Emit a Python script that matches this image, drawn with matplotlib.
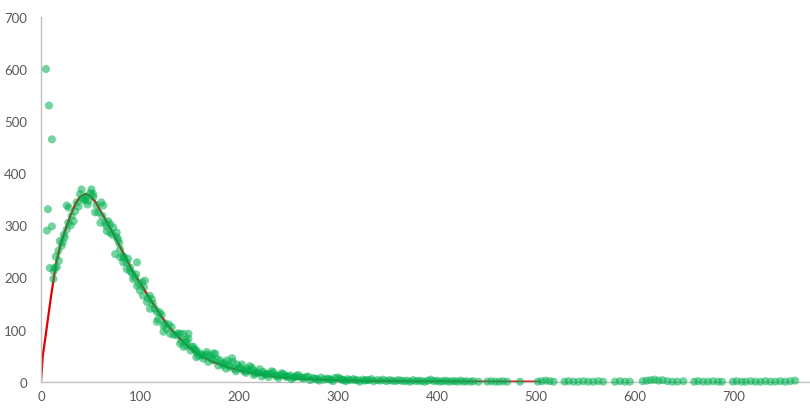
import numpy as np
import matplotlib.pyplot as plt

# scatter data, split by region of the x axis
rise_x = [5, 8, 11, 7, 6, 11, 9, 14, 16, 12.5, 13, 17.5, 15, 18, 21, 19, 22, 24, 23, 26,
          27.6, 26, 28, 31, 30, 33, 34.4, 36, 38, 39.4, 41, 42, 43, 44.5, 46, 48, 47, 51, 52.6, 54.6,
          50, 57.9, 56, 53]
rise_y = [600, 530, 465, 331, 290, 298, 218, 219, 220, 197, 212, 251, 240, 232, 261, 270, 268, 277, 282, 292,
          305, 338, 334, 318, 300, 308, 327, 344, 336, 360, 369, 352, 348, 350, 356, 347, 340, 369, 360, 325,
          362, 325, 339, 355]

fall_x = [60, 61, 63, 65, 66, 66.5, 70, 70, 73, 76.5, 76.5, 78, 75, 80, 80, 83, 83, 86.6, 86.6, 90,
          90, 93, 95, 97, 97, 100, 102, 103, 105, 107, 110, 110, 113, 117, 117, 118.5, 122, 123.7, 123.7, 127,
          130.5, 132, 137, 140.5, 140.5, 144, 144, 147, 147, 149, 149, 152, 154, 157, 157, 157, 161, 164, 164, 167.5,
          167.5, 171, 174, 174, 176, 177.6, 181]
fall_y = [305, 344, 338, 305, 299, 289, 302, 286, 296, 286, 277, 273, 245, 239, 254, 229, 241, 216, 229, 212,
          219, 197, 200, 184, 229, 175, 191, 165, 194, 153, 165, 140, 149, 134, 115, 120, 128, 108, 96, 101,
          92, 105, 89, 92, 73, 67, 92, 76, 69, 92, 82, 67, 67, 60, 57, 47, 54, 44, 50, 57,
          52, 50, 54, 41, 54, 44, 41]

extra_x = [62, 68, 72, 79, 84, 88, 92, 96, 99, 104, 108, 112, 115, 120, 125, 129, 134, 138, 142, 146,
           151, 155, 159, 163, 169, 172, 179, 183, 187, 190, 197, 200, 207, 210, 215, 219, 223, 227, 230, 237,
           240, 247, 253, 257, 264, 272, 277, 281, 291, 295, 304, 308, 317, 322, 327, 331, 336]
extra_y = [318, 308, 282, 266, 238, 236, 208, 206, 188, 181, 160, 158, 140, 133, 112, 110, 90, 93, 78, 80,
           60, 62, 50, 51, 38, 44, 31, 35, 25, 31, 20, 26, 17, 21, 13, 17, 10, 15, 9, 12,
           7, 11, 5, 9, 7, 3, 6, 2, 5, 1, 4, 1, 3, 0, 2, 3, 1]

band_x = [184, 188, 191, 194, 198, 201, 204, 208, 211, 214.5, 218, 221, 224.5, 228, 231.5, 235, 238, 241.7, 245, 248,
          252, 255, 258, 262, 266, 270, 275, 279, 283, 289, 293, 297, 302, 306, 310, 315.7, 320, 325, 329, 334,
          340, 186, 193, 196, 203, 206, 213, 216, 226, 233, 243, 250, 260, 268, 286, 300, 312]
band_y = [31, 41, 28, 38, 33, 28, 22, 25, 30, 22, 18, 24, 19, 14, 15, 18, 11, 12, 15, 9,
          12, 8, 11, 9, 7, 10, 7, 5, 8, 6, 4, 7, 6, 3, 5, 5, 3, 4, 3, 5,
          3, 36, 45, 24, 33, 20, 27, 16, 14, 20, 16, 10, 13, 9, 4, 8, 3]

flat_x = [343, 346, 349, 352, 355, 358, 361, 364, 367, 370, 373, 376, 379, 382, 385, 388, 391, 394, 397, 400,
          403, 406, 409, 412, 415, 418, 421, 424, 427, 430, 434, 437]
flat_y = [2, 4, 1, 3, 2, 1, 3, 2, 1, 2, 0, 3, 1, 2, 1, 0, 2, 4, 1, 2,
          0, 1, 2, 0, 1, 1, 0, 2, 0, 1, 0, 1]

tail_x = [442, 451, 455, 459, 463, 467, 471, 484, 502, 506, 510, 514, 518, 529, 533, 538, 543, 548, 553, 558,
          563, 568, 580, 585, 590, 595, 608, 612, 616, 620, 624, 628, 633, 638, 643, 649, 660, 664, 669, 674,
          679, 684, 688, 699, 703, 708, 712, 717, 722, 727, 732, 737, 742, 747, 752, 757, 762]
tail_y = [0, 0, 1, 0, 0, 1, 0, 0, 0, 1, 2, 1, 0, 0, 1, 0, 0, 1, 0, 0,
          1, 0, 0, 1, 0, 0, 1, 2, 3, 4, 2, 3, 1, 0, 0, 1, 0, 1, 0, 0,
          1, 0, 0, 0, 1, 0, 0, 1, 0, 0, 1, 0, 0, 1, 0, 1, 2]

# fitted curve (red line)
curve_x = [0, 1.7, 5, 10, 15, 20, 26, 30, 35, 40, 45, 50, 55, 60, 70, 76, 85, 93, 100, 110,
           120, 127, 135, 144, 150, 161, 175, 190, 200, 220, 240, 260, 280, 300, 350, 400, 450, 505]
curve_y = [0, 48, 93, 162, 225, 265, 299, 320, 342, 356, 360, 356, 345, 328, 295, 273, 240, 210, 190, 159,
           130, 111, 93, 76, 65, 50, 37, 27, 22, 14, 9, 6, 4, 2.5, 1, 0.4, 0.1, 0]

x_ticks = [0, 100, 200, 300, 400, 500, 600, 700]
y_ticks = [0, 100, 200, 300, 400, 500, 600, 700]

pts_x = np.concatenate([rise_x, fall_x, extra_x, band_x, flat_x, tail_x])
pts_y = np.concatenate([rise_y, fall_y, extra_y, band_y, flat_y, tail_y])

plt.rcParams['font.family'] = ['Lato', 'DejaVu Sans']
fig = plt.figure(figsize=(8.1, 4.1), dpi=100)
ax = fig.add_axes([41 / 810, 27.3 / 410, 769 / 810, 364.8 / 410])

ax.plot(curve_x, curve_y, color='#E00000', lw=1.6, zorder=2, solid_capstyle='butt')
ax.scatter(pts_x, pts_y, s=34, color='#00B050', alpha=0.55, edgecolors='none',
           zorder=3, clip_on=False)

ax.set_xlim(0, 777)
ax.set_ylim(0, 700)
ax.set_xticks(x_ticks)
ax.set_yticks(y_ticks)
ax.tick_params(length=0, labelsize=9.5, labelcolor='#595959')
ax.tick_params(axis='y', pad=10)
ax.tick_params(axis='x', pad=6)
for side in ['top', 'right']:
    ax.spines[side].set_visible(False)
for side in ['left', 'bottom']:
    ax.spines[side].set_color('#BFBFBF')
    ax.spines[side].set_linewidth(1)

fig.savefig('out.png', dpi=100)
